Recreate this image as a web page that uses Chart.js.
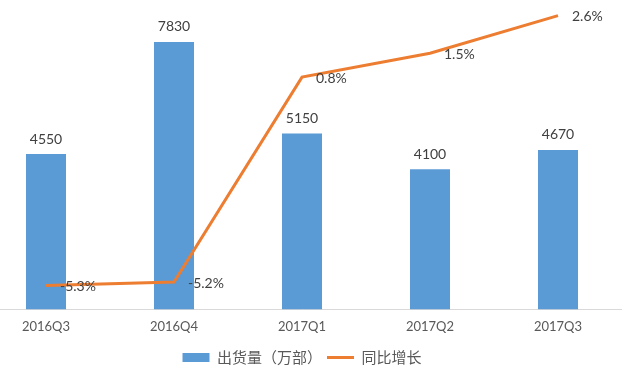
<!DOCTYPE html>
<html>
<head>
<meta charset="utf-8">
<script src="https://cdn.jsdelivr.net/npm/chart.js@4"></script>
<style>
  body { margin: 0; background: #fff; overflow: hidden; }
  #wrap { position: absolute; left: -18px; top: 0; width: 640px; height: 375px; }
</style>
</head>
<body>
<div id="wrap"><canvas id="chart"></canvas></div>
<script>
const quarters = ['2016Q3', '2016Q4', '2017Q1', '2017Q2', '2017Q3'];
const shipments = [4550, 7830, 5150, 4100, 4670];   // 出货量（万部）
const growth = [-5.3, -5.2, 0.8, 1.5, 2.6];          // 同比增长 %

/*
* Desenha os rótulos de valor por cima das barras e ao lado da linha.
*/
const valueLabels = {
  id: 'valueLabels',
  afterDatasetsDraw(chart) {
    const ctx = chart.ctx;
    ctx.save();
    ctx.fillStyle = '#404040';
    ctx.font = '14px Lato';
    ctx.textBaseline = 'middle';

    ctx.textAlign = 'center';
    chart.getDatasetMeta(0).data.forEach((bar, i) => {
      ctx.fillText(shipments[i], bar.x, bar.y - 15);
    });

    ctx.textAlign = 'left';
    chart.getDatasetMeta(1).data.forEach((pt, i) => {
      ctx.fillText(growth[i].toFixed(1) + '%', pt.x + 14, pt.y + 1);
    });
    ctx.restore();
  }
};

const ctx = document.getElementById('chart');

new Chart(ctx, {
  type: 'bar',
  data: {
    labels: quarters,
    datasets: [{
      type: 'bar',
      label: '出货量（万部）',
      data: shipments,
      backgroundColor: '#5B9BD5',
      categoryPercentage: 1,
      barPercentage: 0.3125,
      yAxisID: 'y',
      order: 1
    }, {
      type: 'line',
      label: '同比增长',
      data: growth,
      borderColor: '#ED7D31',
      backgroundColor: '#ED7D31',
      borderWidth: 3,
      pointRadius: 0,
      tension: 0,
      yAxisID: 'y2',
      order: 0
    }]
  },
  options: {
    responsive: true,
    maintainAspectRatio: false,
    animation: false,
    layout: { padding: { top: 2, left: 0, right: 0, bottom: 0 } },
    scales: {
      x: {
        grid: { display: false, drawTicks: false },
        border: { display: true, color: '#D9D9D9', width: 1 },
        ticks: { color: '#595959', padding: 10, font: { family: 'Lato', size: 13 } }
      },
      y: { display: false, min: 0, max: 9000 },
      y2: { display: false, min: -6, max: 3 }
    },
    plugins: {
      tooltip: { enabled: false },
      legend: {
        position: 'bottom',
        labels: {
          usePointStyle: true,
          pointStyleWidth: 27,
          boxWidth: 27,
          boxHeight: 9,
          padding: 5,
          color: '#595959',
          font: { family: 'Noto Sans CJK SC', size: 15 },
          sort: (a, b) => a.datasetIndex - b.datasetIndex,
          generateLabels(chart) {
            const items = Chart.defaults.plugins.legend.labels.generateLabels(chart);
            items.forEach(it => {
              it.pointStyle = it.datasetIndex === 0 ? 'rect' : 'line';
            });
            return items;
          }
        }
      }
    }
  },
  plugins: [valueLabels]
});
</script>
</body>
</html>
